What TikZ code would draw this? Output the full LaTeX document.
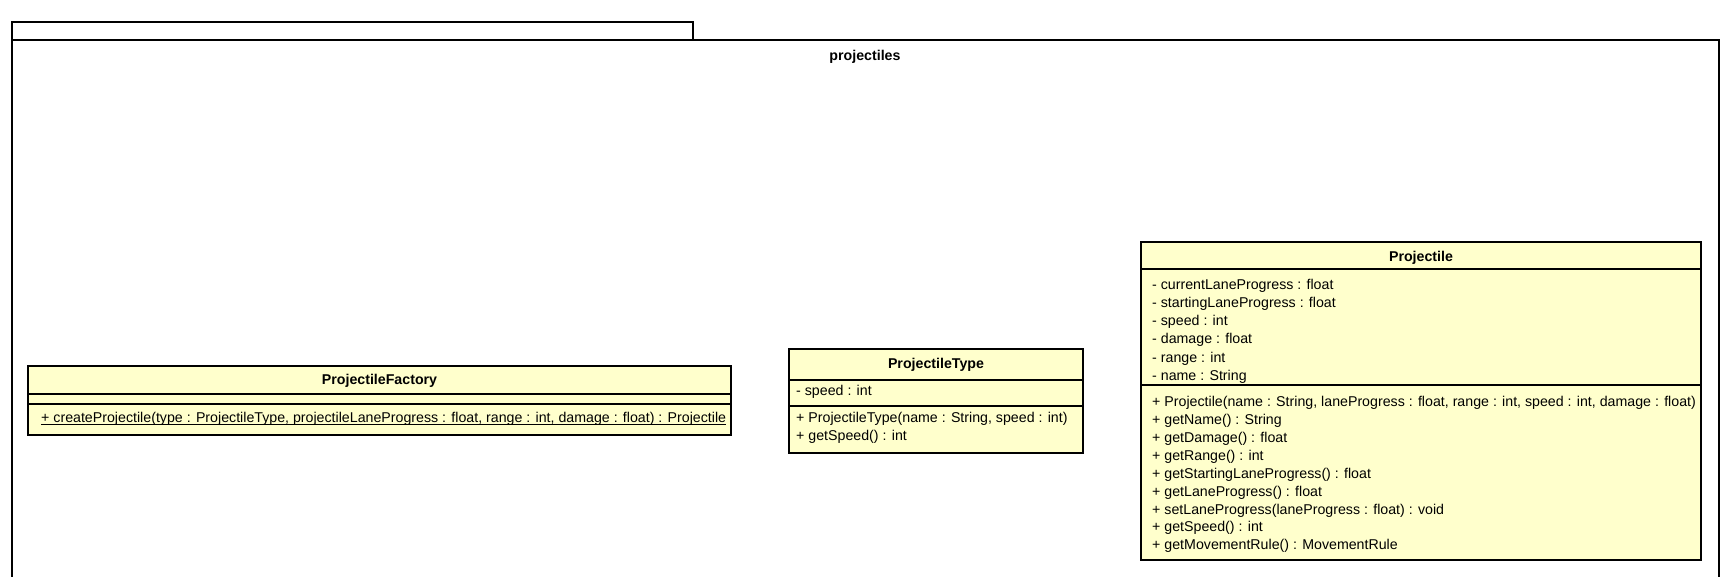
\documentclass[tikz,border=0pt]{standalone}
\usepackage{fontspec}
\setmainfont{Liberation Sans}
\definecolor{classfill}{HTML}{FFFFCC}
\tikzset{
  frame/.style={draw=black, line width=1.7pt},
  classbox/.style={draw=black, line width=2.2pt, fill=classfill},
  divider/.style={draw=black, line width=1.1pt},
  title/.style={anchor=center, inner sep=0pt, font=\fontsize{14.2}{16}\selectfont\bfseries},
  member/.style={anchor=west, inner sep=0pt, font=\fontsize{14.2}{16}\selectfont},
}
\begin{document}
\begin{tikzpicture}[x=1pt,y=-1pt]
\useasboundingbox (0,0) rectangle (1731,576);
% package
\draw[frame] (12,40) rectangle (693,22);
\draw[frame] (12,600) -- (12,40) -- (1719,40) -- (1719,600);
\node[title] (pkg) at (865,57) {projectiles};

% ProjectileFactory
\path[classbox] (28,366) rectangle (731,435);
\draw[divider] (28,394) -- (731,394);
\draw[divider] (28,404) -- (731,404);
\node[title] (pft) at (379.5,381) {ProjectileFactory};
\node[member] (pfm) at (41,419) {+ createProjectile(type : ProjectileType, projectileLaneProgress : float, range : int, damage : float) : Projectile};
\draw[line width=0.9pt] ([yshift=-2.2pt]pfm.base west) -- ([yshift=-2.2pt]pfm.base east);

% ProjectileType
\path[classbox] (789,349) rectangle (1083,453);
\draw[divider] (789,380) -- (1083,380);
\draw[divider] (789,406) -- (1083,406);
\node[title] (ptt) at (936,365) {ProjectileType};
\node[member] (pta) at (796,392) {- speed : int};
\node[member] (ptm1) at (796,419) {+ ProjectileType(name : String, speed : int)};
\node[member] (ptm2) at (796,437) {+ getSpeed() : int};

% Projectile
\path[classbox] (1141,242) rectangle (1701,560);
\draw[divider] (1141,269) -- (1701,269);
\draw[divider] (1141,385) -- (1701,385);
\node[title] (prt) at (1421,258) {Projectile};
\foreach \t [count=\i from 0] in {- currentLaneProgress : float, - startingLaneProgress : float, - speed : int, - damage : float, - range : int, - name : String}{
  \node[member] (pra\i) at (1152,286+18.1*\i) {\t};
}
\foreach \t [count=\i from 0] in {{+ Projectile(name : String, laneProgress : float, range : int, speed : int, damage : float)}, + getName() : String, + getDamage() : float, + getRange() : int, + getStartingLaneProgress() : float, + getLaneProgress() : float, {+ setLaneProgress(laneProgress : float) : void}, + getSpeed() : int, + getMovementRule() : MovementRule}{
  \node[member] (prm\i) at (1152,403+17.9*\i) {\t};
}
\end{tikzpicture}
\end{document}
